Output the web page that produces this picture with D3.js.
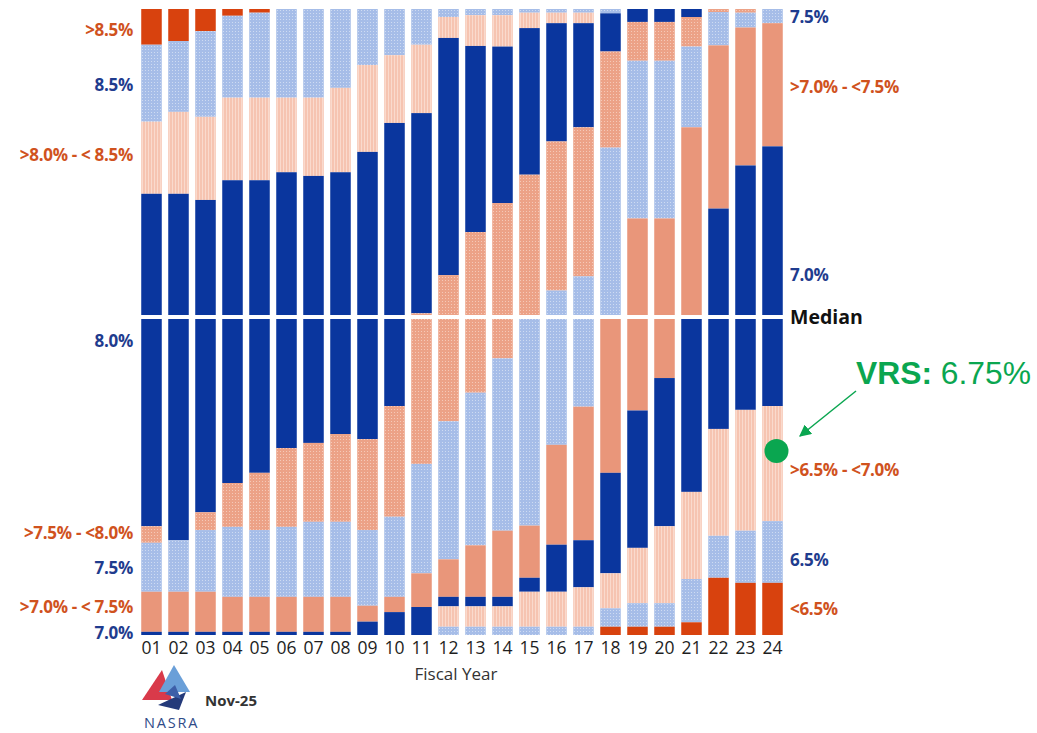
<!DOCTYPE html>
<html>
<head>
<meta charset="utf-8">
<script src="https://cdn.jsdelivr.net/npm/d3@7"></script>
<style>
  html, body { margin: 0; padding: 0; background: #fff; }
  svg { display: block; }
</style>
</head>
<body>
<svg id="chart" width="1037" height="733"></svg>
<script>
// ---------- DATA ----------
const years = ["01","02","03","04","05","06","07","08","09","10","11","12",
               "13","14","15","16","17","18","19","20","21","22","23","24"];

// Categories from highest assumption (top of bar) to lowest (bottom)
const categories = [">8.5%", "8.5%", ">8.0%-<8.5%", "8.0%", ">7.5%-<8.0%", "7.5%",
                    ">7.0%-<7.5%", "7.0%", ">6.5%-<7.0%", "6.5%", "<6.5%"];

// Share of plans (%) in each category, per fiscal year
const gt85    = [5.8, 5.2, 3.6, 1.1, 0.6, 0, 0, 0, 0, 0, 0, 0, 0, 0, 0, 0, 0, 0, 0, 0, 0, 0, 0, 0];
const eq85    = [12.5, 11.5, 13.9, 13.3, 13.8, 14.4, 14.4, 12.8, 9.1, 7.5, 5.8, 1.3, 1.0, 1.0, 0.6, 0.6, 0.6, 0.7, 0, 0, 0, 0, 0, 0];
const r80_85  = [11.7, 13.3, 13.5, 13.4, 13.4, 12.1, 12.7, 13.7, 14.1, 11.0, 11.1, 3.4, 5.0, 5.1, 2.5, 1.7, 1.7, 0, 0, 0, 0, 0, 0, 0];
const eq80    = [52.9, 55.1, 49.7, 48.3, 46.7, 44.1, 42.7, 41.9, 46.0, 45.5, 32.5, 38.5, 30.2, 25.4, 23.8, 19.2, 16.9, 6.2, 2.1, 2.1, 1.3, 0, 0, 0];
const r75_80  = [2.6, 0, 2.8, 6.9, 9.0, 12.4, 12.4, 13.8, 14.3, 17.4, 23.7, 23.2, 25.7, 25.0, 23.1, 24.2, 24.2, 15.6, 6.3, 6.3, 4.8, 0.5, 0.6, 0];
const eq75    = [7.7, 8.1, 9.7, 11.0, 10.5, 11.0, 11.8, 11.8, 11.9, 12.6, 17.2, 21.7, 24.0, 27.1, 32.8, 24.4, 20.7, 27.5, 25.6, 25.6, 13.1, 5.4, 2.4, 2.3];
const r70_75  = [6.3, 6.3, 6.3, 5.5, 5.5, 5.5, 5.5, 5.5, 2.5, 2.4, 5.3, 5.9, 8.1, 10.4, 8.2, 15.7, 21.0, 24.5, 30.7, 25.6, 30.8, 26.5, 22.4, 20.0];
const eq70    = [0.5, 0.5, 0.5, 0.5, 0.5, 0.5, 0.5, 0.5, 2.1, 3.6, 4.4, 1.5, 1.5, 1.5, 2.2, 7.4, 7.4, 15.8, 21.6, 23.3, 27.5, 35.2, 39.2, 41.7];
const r65_70  = [0, 0, 0, 0, 0, 0, 0, 0, 0, 0, 0, 3.2, 3.2, 3.2, 5.5, 5.5, 6.2, 5.5, 8.7, 12.1, 13.7, 16.8, 19.0, 18.1];
const eq65    = [0, 0, 0, 0, 0, 0, 0, 0, 0, 0, 0, 1.3, 1.3, 1.3, 1.3, 1.3, 1.3, 2.9, 3.7, 3.7, 6.8, 6.6, 8.2, 9.7];
const lt65    = [0, 0, 0, 0, 0, 0, 0, 0, 0, 0, 0, 0, 0, 0, 0, 0, 0, 1.3, 1.3, 1.3, 2.0, 9.0, 8.2, 8.2];

const seriesValues = [gt85, eq85, r80_85, eq80, r75_80, eq75, r70_75, eq70, r65_70, eq65, lt65];

// Axis labels on the left (for the first year) and right (for the last year)
const leftLabels  = [">8.5%", "8.5%", ">8.0% - < 8.5%", "8.0%", ">7.5% - <8.0%", "7.5%", ">7.0% - < 7.5%", "7.0%"];
const leftLabelCat = [0, 1, 2, 3, 4, 5, 6, 7];
const rightLabels = ["7.5%", ">7.0% - <7.5%", "7.0%", ">6.5% - <7.0%", "6.5%", "<6.5%"];
const rightLabelCat = [5, 6, 7, 8, 9, 10];
const xTitle = "Fiscal Year";
const vrsLabel = "VRS:";
const vrsValue = "6.75%";
const dateLabel = "Nov-25";

// ---------- BUILD TABLE ----------
const table = years.map((yr, i) => {
  const row = { year: yr };
  categories.forEach((c, k) => { row[c] = seriesValues[k][i]; });
  return row;
});
const stacked = d3.stack().keys(categories)(table);

// ---------- CHART ----------
const svg = d3.select("#chart");
const defs = svg.append("defs");

// textures
function dotPattern(id, base, dot, op) {
  const p = defs.append("pattern").attr("id", id).attr("patternUnits", "userSpaceOnUse")
    .attr("width", 3).attr("height", 3);
  p.append("rect").attr("width", 3).attr("height", 3).attr("fill", base);
  p.append("rect").attr("x", 1).attr("y", 1).attr("width", 1).attr("height", 1)
    .attr("fill", dot).attr("opacity", op);
  return `url(#${id})`;
}
function linePattern(id, base, line, op) {
  const p = defs.append("pattern").attr("id", id).attr("patternUnits", "userSpaceOnUse")
    .attr("width", 3).attr("height", 4);
  p.append("rect").attr("width", 3).attr("height", 4).attr("fill", base);
  p.append("rect").attr("x", 1).attr("y", 0).attr("width", 1).attr("height", 4)
    .attr("fill", line).attr("opacity", op);
  return `url(#${id})`;
}
const RED = "#d8420e", NAVY = "#0a369e";
const lightBlue = dotPattern("pBlue", "#a6bde8", "#ffffff", 0.45);
const palePeach = linePattern("pPeach", "#f6c4b1", "#fbe0d5", 0.8);
const dotSalmon = dotPattern("pSalmon", "#eca287", "#fbe3d8", 0.6);
const SALMON = "#e9967a";

const fills = [RED, lightBlue, palePeach, NAVY, dotSalmon, lightBlue, SALMON, NAVY, palePeach, lightBlue, RED];

const x = d3.scaleBand().domain(years).range([138, 786]).paddingInner(0.24).paddingOuter(0.12);
// upper half maps to the space above the median line, lower half below it
const y = d3.scaleLinear().domain([0, 50, 100]).range([9, 317, 635]);

const g = svg.append("g");
g.selectAll("g.layer").data(stacked).join("g")
  .attr("class", "layer")
  .attr("fill", (d, k) => fills[k])
  .selectAll("rect").data(d => d).join("rect")
  .attr("x", d => x(d.data.year))
  .attr("width", x.bandwidth())
  .attr("y", d => y(d[0]))
  .attr("height", d => Math.max(0, y(d[1]) - y(d[0])));

// median line
svg.append("line")
  .attr("x1", 136).attr("x2", 788)
  .attr("y1", y(50)).attr("y2", y(50))
  .attr("stroke", "#fff").attr("stroke-width", 4);

// x axis
const xAxis = svg.append("g").attr("transform", "translate(0,639)")
  .call(d3.axisBottom(x).tickSize(0).tickPadding(3));
xAxis.select(".domain").remove();
xAxis.selectAll("text")
  .attr("font-family", "'Open Sans', sans-serif")
  .attr("font-size", 17.5).attr("fill", "#1e1e1e");

svg.append("text").attr("x", 456).attr("y", 680)
  .attr("text-anchor", "middle")
  .attr("font-family", "'Open Sans', sans-serif").attr("font-size", 17)
  .attr("fill", "#333").text(xTitle);

function labelColor(k) {
  return [0, 2, 4, 6, 8, 10].includes(k) ? "#d0521e" : "#1f3c8e";
}

// left labels (first year) and right labels (last year)
const LABEL_SIZE = 17;
const leftY = { 0: 30, 1: 85, 2: 155, 3: 341, 4: 533, 5: 568, 6: 607, 7: 633 };
svg.append("g").selectAll("text").data(leftLabels).join("text")
  .attr("x", 133)
  .attr("y", (d, i) => leftY[leftLabelCat[i]])
  .attr("dy", "0.35em")
  .attr("text-anchor", "end")
  .attr("font-family", "'Open Sans', sans-serif").attr("font-weight", 700)
  .attr("font-size", LABEL_SIZE).attr("letter-spacing", -0.3)
  .attr("fill", (d, i) => labelColor(leftLabelCat[i]))
  .text(d => d);

const rightY = { 5: 17, 6: 87, 7: 275, 8: 470, 9: 560, 10: 609 };
svg.append("g").selectAll("text").data(rightLabels).join("text")
  .attr("x", 790)
  .attr("y", (d, i) => rightY[rightLabelCat[i]])
  .attr("dy", "0.35em")
  .attr("font-family", "'Open Sans', sans-serif").attr("font-weight", 700)
  .attr("font-size", LABEL_SIZE).attr("letter-spacing", -0.3)
  .attr("fill", (d, i) => labelColor(rightLabelCat[i]))
  .text(d => d);

svg.append("text").attr("x", 790).attr("y", y(50)).attr("dy", "0.35em")
  .attr("font-family", "'Open Sans', sans-serif").attr("font-weight", 700)
  .attr("font-size", 19.5).attr("fill", "#111").text("Median");

// VRS annotation
const GREEN = "#0aa650";
defs.append("marker").attr("id", "arrow").attr("viewBox", "0 0 10 10")
  .attr("refX", 9).attr("refY", 5).attr("markerWidth", 8).attr("markerHeight", 8)
  .attr("orient", "auto-start-reverse")
  .append("path").attr("d", "M0,0 L10,5 L0,10 z").attr("fill", GREEN);

const vrsX = x("24") + x.bandwidth() / 2 + 4;
svg.append("circle").attr("cx", vrsX).attr("cy", 451).attr("r", 12).attr("fill", GREEN);
svg.append("line").attr("x1", 856).attr("y1", 391).attr("x2", 800).attr("y2", 436)
  .attr("stroke", GREEN).attr("stroke-width", 1.5).attr("marker-end", "url(#arrow)");
const vt = svg.append("text").attr("x", 856).attr("y", 384)
  .attr("font-family", "'Liberation Sans', Arial, sans-serif").attr("font-size", 31.8)
  .attr("fill", GREEN);
vt.append("tspan").attr("font-weight", 700).text(vrsLabel);
vt.append("tspan").text(" " + vrsValue);

// NASRA logo (decorative)
const logo = svg.append("g");
logo.append("polygon").attr("points", "142,700 162,670 172,700").attr("fill", "#d93a4a");
logo.append("polygon").attr("points", "159,692 174,665 190,692").attr("fill", "#6a9fd8");
logo.append("polygon").attr("points", "158,705 186,692 179,710").attr("fill", "#243a7a");
logo.append("polygon").attr("points", "165,694 175,685 181,699").attr("fill", "#3d5fa8");
logo.append("text").attr("x", 144).attr("y", 728)
  .attr("font-family", "'Open Sans', sans-serif").attr("font-size", 14.5)
  .attr("letter-spacing", 1.8).attr("fill", "#2f4b88").text("NASRA");
svg.append("text").attr("x", 205).attr("y", 706)
  .attr("font-family", "'Open Sans', sans-serif").attr("font-weight", 700)
  .attr("font-size", 15).attr("fill", "#333").text(dateLabel);
</script>
</body>
</html>
